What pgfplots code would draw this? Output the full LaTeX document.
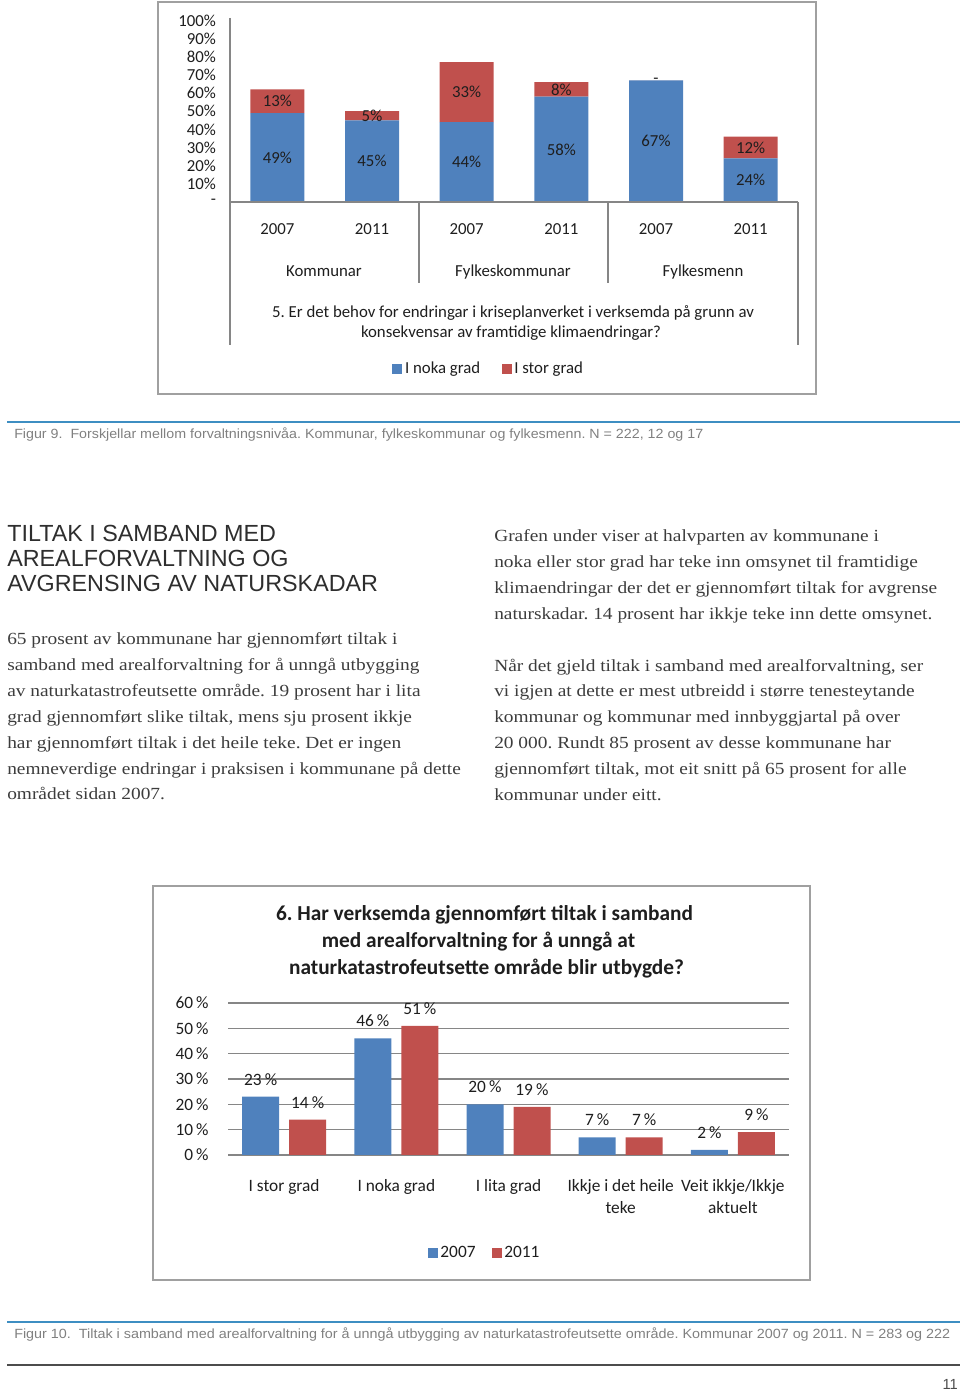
\documentclass[border=0pt]{standalone}
\usepackage{fontspec}
\usepackage{graphicx}
\usepackage{pgfplots}
\pgfplotsset{compat=1.18}
\setmainfont{Liberation Serif}
\newfontfamily\chartfont{Carlito}
\newfontfamily\bodyfont[FakeStretch=1.14]{Liberation Serif}
\newfontfamily\headfont{Liberation Sans}
\newfontfamily\capfont{Liberation Sans}
\definecolor{barblue}{HTML}{4F81BD}
\definecolor{barred}{HTML}{C0504D}
\definecolor{ruleblue}{HTML}{3E8EC2}
\definecolor{bodygray}{HTML}{3C3C3C}
\definecolor{headgray}{HTML}{2E2E2E}
\definecolor{capgray}{HTML}{808080}
\definecolor{framegray}{HTML}{A0A0A0}
\definecolor{axisgray}{HTML}{868686}
\definecolor{charttext}{HTML}{1E1E1E}
\newcommand\cfA{\chartfont\fontsize{12.6pt}{15pt}\selectfont}
\newcommand\cfB{\chartfont\fontsize{13pt}{16.5pt}\selectfont}
\newcommand\cfT{\chartfont\bfseries\fontsize{16pt}{20pt}\selectfont}
\newcommand\bodytxt{\bodyfont\fontsize{12.75pt}{19.375pt}\selectfont}
\frenchspacing

\begin{document}
\begin{tikzpicture}[x=0.75pt,y=0.75pt]
% ---------------- chart 1 frame
\draw[framegray, line width=1.1pt] (158,1393-2) rectangle (816,1393-394);

\begin{axis}[
  at={(172.5pt,893.25pt)}, anchor=south west,
  scale only axis, width=426pt, height=136.125pt,
  ybar stacked, bar width=40.5pt,
  xmin=-0.5, xmax=5.5, ymin=0, ymax=100,
  axis line style={draw=none},
  major tick length=0pt,
  tick style={draw=none},
  xtick={0,1,2,3,4,5},
  xticklabels={2007,2011,2007,2011,2007,2011},
  ytick={0,10,...,100},
  yticklabels={-,10\%,20\%,30\%,40\%,50\%,60\%,70\%,80\%,90\%,100\%},
  ticklabel style={font=\cfA, text=charttext},
  xticklabel style={anchor=north, yshift=-13pt},
  yticklabel style={anchor=east, xshift=-7pt},
  legend style={draw=none, fill=none, font=\cfA, text=charttext,
    at={(axis description cs:0.456,-0.92)}, anchor=center,
    legend columns=2,
    /tikz/every even column/.append style={column sep=14pt}},
  legend cell align=left,
]
\addplot+[fill=barblue, draw=none,
  legend image code/.code={\fill[barblue] (0pt,-3.75pt) rectangle (7.5pt,3.75pt);},
  point meta=explicit symbolic, nodes near coords,
  every node near coord/.style={anchor=center, font=\cfA, text=charttext}]
  coordinates {(0,49) [49\%] (1,45) [45\%] (2,44) [44\%] (3,58) [58\%] (4,67) [67\%] (5,24) [24\%]};
\addplot+[fill=barred, draw=none,
  legend image code/.code={\fill[barred] (0pt,-3.75pt) rectangle (7.5pt,3.75pt);},
  point meta=explicit symbolic, nodes near coords,
  every node near coord/.style={anchor=center, font=\cfA, text=charttext}]
  coordinates {(0,13) [13\%] (1,5) [5\%] (2,33) [33\%] (3,8) [8\%] (4,0.01) [{-}] (5,12) [12\%]};
\legend{I noka grad, I stor grad}
\end{axis}

% chart 1 lines
\draw[axisgray, line width=1.1pt] (230,1393-18) -- (230,1393-345);
\draw[axisgray, line width=1.1pt] (230,1393-202) -- (798,1393-202);
\draw[axisgray, line width=1.1pt] (798,1393-202) -- (798,1393-345);
\draw[axisgray, line width=1.1pt] (419,1393-202) -- (419,1393-283);
\draw[axisgray, line width=1.1pt] (608,1393-202) -- (608,1393-283);
\node[font=\cfA, text=charttext, anchor=base] at (324,1393-277) {Kommunar};
\node[font=\cfA, text=charttext, anchor=base] at (513,1393-277) {Fylkeskommunar};
\node[font=\cfA, text=charttext, anchor=base] at (703,1393-277) {Fylkesmenn};
\node[font=\cfA, text=charttext, anchor=base] at (513,1393-318) {5. Er det behov for endringar i kriseplanverket i verksemda på grunn av};
\node[font=\cfA, text=charttext, anchor=base] at (511,1393-338) {konsekvensar av framtidige klimaendringar?};

% ---------------- caption 9
\draw[ruleblue, line width=1.5pt] (7,1393-422) -- (960,1393-422);
\node[anchor=base west, inner sep=0, text=capgray] at (14,1393-439)
  {\resizebox{516.75pt}{\height}{\capfont\fontsize{10pt}{12pt}\selectfont Figur 9.\ \ Forskjellar mellom forvaltningsnivåa. Kommunar, fylkeskommunar og fylkesmenn. N = 222, 12 og 17}};

% ---------------- heading and text
\node[anchor=base west, inner sep=0, text=headgray] at (7,1393-542)
  {\parbox[t]{400pt}{\headfont\fontsize{17.5pt}{18.75pt}\selectfont\raggedright
   TILTAK I SAMBAND MED\\AREALFORVALTNING OG\\AVGRENSING AV NATURSKADAR}};
\node[anchor=base west, inner sep=0, text=bodygray] at (7,1393-645)
  {\parbox[t]{400pt}{\bodytxt\raggedright
   65 prosent av kommunane har gjennomført tiltak i\\
   samband med arealforvaltning for å unngå utbygging\\
   av naturkatastrofeutsette område. 19 prosent har i lita\\
   grad gjennomført slike tiltak, mens sju prosent ikkje\\
   har gjennomført tiltak i det heile teke. Det er ingen\\
   nemneverdige endringar i praksisen i kommunane på dette\\
   området sidan 2007.}};
\node[anchor=base west, inner sep=0, text=bodygray] at (494,1393-542)
  {\parbox[t]{400pt}{\bodytxt\raggedright
   Grafen under viser at halvparten av kommunane i\\
   noka eller stor grad har teke inn omsynet til framtidige\\
   klimaendringar der det er gjennomført tiltak for avgrense\\
   naturskadar. 14 prosent har ikkje teke inn dette omsynet.\\
   \mbox{}\\
   Når det gjeld tiltak i samband med arealforvaltning, ser\\
   vi igjen at dette er mest utbreidd i større tenesteytande\\
   kommunar og kommunar med innbyggjartal på over\\
   20 000. Rundt 85 prosent av desse kommunane har\\
   gjennomført tiltak, mot eit snitt på 65 prosent for alle\\
   kommunar under eitt.}};

% ---------------- chart 2
\draw[framegray, line width=1.3pt] (153,1393-886) rectangle (810,1393-1280);
\node[font=\cfT, text=charttext, anchor=base] at (484.5,1393-921) {6. Har verksemda gjennomført tiltak i samband};
\node[font=\cfT, text=charttext, anchor=base] at (478.5,1393-948) {med arealforvaltning for å unngå at};
\node[font=\cfT, text=charttext, anchor=base] at (486.5,1393-975) {naturkatastrofeutsette område blir utbygde?};

\begin{axis}[
  at={(171pt,178.5pt)}, anchor=south west,
  scale only axis, width=420.75pt, height=114pt,
  ybar=7.5pt, bar width=27.75pt,
  xmin=-0.5, xmax=4.5, ymin=0, ymax=60,
  axis line style={draw=none},
  major tick length=0pt,
  tick style={draw=none},
  ymajorgrids, grid style={axisgray, line width=1.1pt},
  xtick={0,1,2,3,4},
  xticklabels={I stor grad, I noka grad, I lita grad, {Ikkje i det heile\\teke}, {Veit ikkje/Ikkje\\aktuelt}},
  ytick={0,10,...,60},
  /pgf/number format/assume math mode=true,
  yticklabel={\pgfmathprintnumber{\tick}\hspace{0.18em}\%},
  ticklabel style={font=\cfB, text=charttext},
  xticklabel style={anchor=north, align=center, yshift=-15pt},
  yticklabel style={anchor=east, xshift=-11pt},
  nodes near coords={\pgfmathprintnumber{\pgfplotspointmeta}\hspace{0.18em}\%},
  every node near coord/.append style={font=\cfB, text=charttext, yshift=5pt},
  legend style={draw=none, fill=none, font=\cfB, text=charttext,
    at={(axis description cs:0.458,-0.645)}, anchor=center,
    legend columns=2,
    /tikz/every even column/.append style={column sep=10pt}},
  legend cell align=left,
]
\addplot+[fill=barblue, draw=none,
  legend image code/.code={\fill[barblue] (0pt,-3.75pt) rectangle (7.5pt,3.75pt);}]
  coordinates {(0,23) (1,46) (2,20) (3,7) (4,2)};
\addplot+[fill=barred, draw=none,
  legend image code/.code={\fill[barred] (0pt,-3.75pt) rectangle (7.5pt,3.75pt);}]
  coordinates {(0,14) (1,51) (2,19) (3,7) (4,9)};
\legend{2007, 2011}
\end{axis}

% ---------------- caption 10 and footer
\draw[ruleblue, line width=1.5pt] (7,1393-1322) -- (960,1393-1322);
\node[anchor=base west, inner sep=0, text=capgray] at (14,1393-1339)
  {\resizebox{702pt}{\height}{\capfont\fontsize{10pt}{12pt}\selectfont Figur 10.\ \ Tiltak i samband med arealforvaltning for å unngå utbygging av naturkatastrofeutsette område. Kommunar 2007 og 2011. N = 283 og 222}};
\draw[black!70, line width=2.2pt] (7,1393-1365) -- (960,1393-1365);
\node[anchor=base east, inner sep=0, text=black!70, font=\capfont\fontsize{11pt}{13pt}\selectfont] at (958,1393-1390) {11};

\pgfresetboundingbox
\path[use as bounding box] (0,0) rectangle (960,1393);
\end{tikzpicture}
\end{document}
